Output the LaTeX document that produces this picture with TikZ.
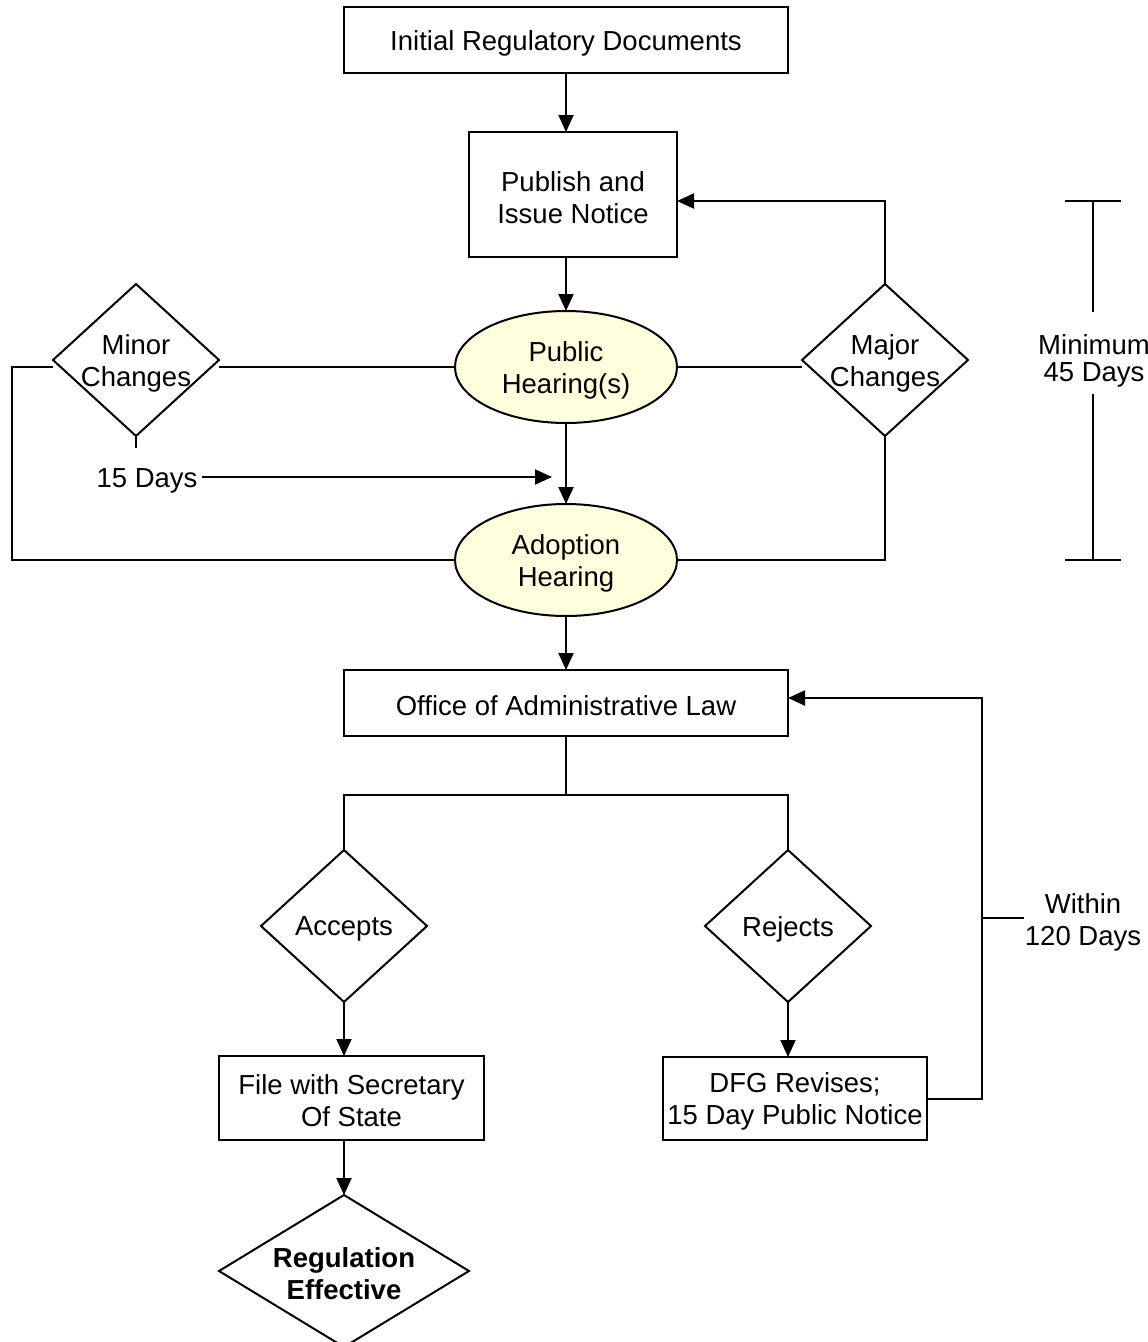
\documentclass[tikz,border=0pt]{standalone}
\usepackage{fontspec}
\setmainfont{Liberation Sans}
\usetikzlibrary{shapes.geometric,arrows.meta}
\definecolor{cream}{RGB}{255,255,221}
\begin{document}
\begin{tikzpicture}[x=1pt,y=-1pt,
  every node/.style={font=\fontsize{27.5}{32}\selectfont, inner sep=0pt, outer sep=0pt, align=center},
  link/.style={line width=2pt},
  flow/.style={link, -{Triangle[length=17pt,width=15pt]}},
  box/.style={draw, line width=2pt, rectangle},
  hearing/.style={draw, line width=2pt, ellipse, fill=cream, minimum width=222pt, minimum height=112pt},
  decision/.style={draw, line width=2pt, diamond, minimum width=166pt, minimum height=152pt},
  inside/.style={font=\fontsize{27.5}{32}\selectfont, align=center, yshift=-3pt}
]
\useasboundingbox (0,0) rectangle (1148,1342);

% main column
\node[box, minimum width=444pt, minimum height=66pt, label={[inside]center:Initial Regulatory Documents}] (init) at (566,40) {};
\node[box, minimum width=208pt, minimum height=125pt, label={[inside]center:Publish and\\Issue Notice}] (pub) at (573,194.5) {};
\node[hearing, label={[inside]center:Public\\Hearing(s)}] (ph) at (566,367) {};
\node[hearing, label={[inside]center:Adoption\\Hearing}] (ah) at (566,560) {};
\node[box, minimum width=444pt, minimum height=66pt, label={[inside]center:Office of Administrative Law}] (oal) at (566,703) {};

% change decisions beside the hearings
\node[decision, label={[inside]center:Minor\\Changes}] (minor) at (136,360) {};
\node[decision, label={[inside]center:Major\\Changes}] (major) at (885,360) {};

% outcome branches
\node[decision, label={[inside]center:Accepts}] (acc) at (344,926) {};
\node[decision, label={[inside]center:Rejects}] (rej) at (788,926) {};
\node[box, minimum width=265pt, minimum height=84pt, label={[inside]center:File with Secretary\\Of State}] (file) at (351.5,1098) {};
\node[box, minimum width=264pt, minimum height=83pt, label={[inside]center:DFG Revises;\\15 Day Public Notice}] (dfg) at (795,1098.5) {};
\node[decision, minimum width=250pt, label={[inside, font=\fontsize{27.5}{32}\selectfont\bfseries]center:Regulation\\Effective}] (reg) at (344,1271) {};

% side labels
\node[anchor=base] (days) at (147,487) {15 Days};
\node[font=\fontsize{27.5}{27}\selectfont] (minimum) at (1094,361) {Minimum\\45 Days};
\node (within) at (1083,922.5) {Within\\120 Days};

% helper points
\coordinate (lc) at (12,367);
\coordinate (dtip) at (552,477);
\coordinate (dstart) at ([xshift=5pt]days.east);
\coordinate (tick) at (136,448);
\coordinate (split) at (566,795);
\coordinate (rtop) at (982,698);
\coordinate (wtick) at (1024,918);
\coordinate (mtop) at (1093,201);
\coordinate (mup) at (1093,312);
\coordinate (mlow) at (1093,394);
\coordinate (mbot) at (1093,560);

% main flow
\draw[flow] (init.south) -- (init.south |- pub.north);
\draw[flow] (init.south |- pub.south) -- (ph.north);
\draw[flow] (ph.south) -- (ah.north);
\draw[flow] (ah.south) -- (oal.north);

% minor changes loop
\draw[link] (ph.west) -- (minor.east |- ph.west);
\draw[link] (minor.west |- ph.west) -- (lc) |- (ah.west);
\draw[link] (minor.south) -- (tick);
\draw[flow] (dstart |- dtip) -- (dtip);

% major changes loop
\draw[link] (ph.east) -- (major.west |- ph.east);
\draw[flow] (major.north) |- (pub.east |- 0,201);
\draw[link] (major.south) |- (ah.east);

% office decision split
\draw[link] (oal.south) -- (split);
\draw[link] (acc.north) |- (split) -| (rej.north);
\draw[flow] (acc.south) -- (acc.south |- file.north);
\draw[flow] (acc.south |- file.south) -- (reg.north);
\draw[flow] (rej.south) -- (rej.south |- dfg.north);
\draw[flow] (dfg.east) -| (rtop) -- (rtop -| oal.east);
\draw[link] (rtop |- wtick) -- (wtick);

% 45 day span marker
\draw[link] (mtop) -- (mup);
\draw[link] (mlow) -- (mbot);
\draw[link] ([xshift=-28pt]mtop) -- ([xshift=28pt]mtop);
\draw[link] ([xshift=-28pt]mbot) -- ([xshift=28pt]mbot);
\end{tikzpicture}
\end{document}
